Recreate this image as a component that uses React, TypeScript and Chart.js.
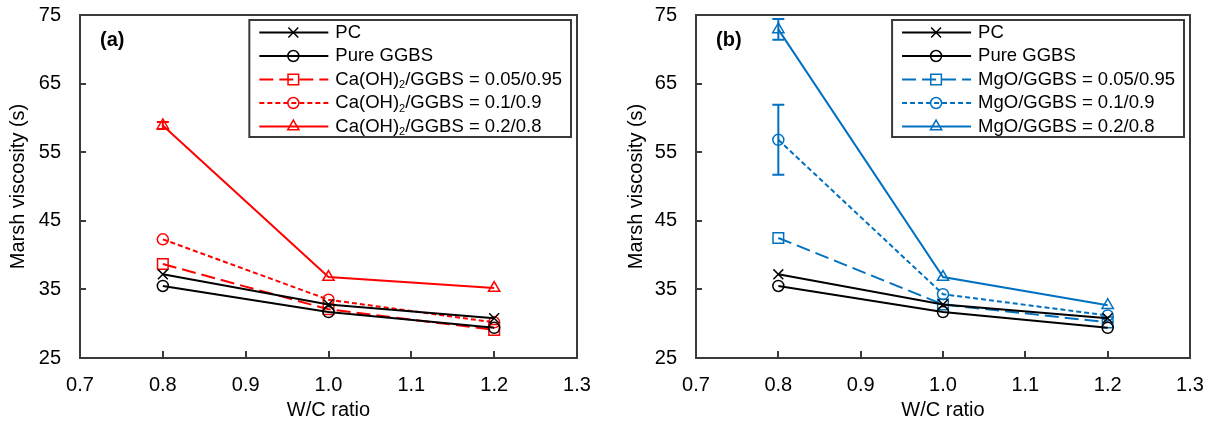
import { useEffect, useRef } from "react";
import { Chart, registerables } from "chart.js";

Chart.register(...registerables);

// ---------------- data ----------------
const wcRatio = [0.8, 1.0, 1.2];
const xTicks = [0.7, 0.8, 0.9, 1.0, 1.1, 1.2, 1.3];
const yTicks = [25, 35, 45, 55, 65, 75];

const pcValues = [37.2, 32.8, 30.8];
const ggbsValues = [35.5, 31.7, 29.4];

const caOH005 = [38.7, 32.1, 29.1];
const caOH01 = [42.3, 33.5, 30.2];
const caOH02 = [58.9, 36.8, 35.2];
const caOH02Err = [0.5, 0, 0];

const mgo005 = [42.5, 32.8, 30.2];
const mgo01 = [56.8, 34.3, 31.2];
const mgo01Err = [5.1, 0, 0];
const mgo02 = [72.9, 36.8, 32.7];
const mgo02Err = [1.5, 0, 0];

const labelsA = [
  "PC",
  "Pure GGBS",
  "Ca(OH)₂/GGBS = 0.05/0.95",
  "Ca(OH)₂/GGBS = 0.1/0.9",
  "Ca(OH)₂/GGBS = 0.2/0.8",
];
const labelsB = [
  "PC",
  "Pure GGBS",
  "MgO/GGBS = 0.05/0.95",
  "MgO/GGBS = 0.1/0.9",
  "MgO/GGBS = 0.2/0.8",
];

const xTitle = "W/C ratio";
const yTitle = "Marsh viscosity (s)";

// ---------------- styles ----------------
const FONT = "'Liberation Sans', Arial, sans-serif";
const RED = "#FF0000";
const BLUE = "#0070C0";
const BLACK = "#000000";
const FRAME = "#3a3a3a";

const LONG_DASH = [14, 6];
const SHORT_DASH = [5, 3];

type Style = "crossRot" | "circle" | "rect" | "triangle";
const RADII: Record<Style, number> = { crossRot: 7, circle: 5.5, rect: 7.5, triangle: 6.5 };

function drawMarker(ctx: CanvasRenderingContext2D, style: Style, x: number, y: number, r: number) {
  ctx.beginPath();
  if (style === "circle") {
    ctx.arc(x, y, r, 0, Math.PI * 2);
    ctx.closePath();
  } else if (style === "rect") {
    const s = r * Math.SQRT1_2;
    ctx.rect(x - s, y - s, 2 * s, 2 * s);
  } else if (style === "triangle") {
    let rad = 0;
    ctx.moveTo(x + Math.sin(rad) * r, y - Math.cos(rad) * r);
    rad += (Math.PI * 2) / 3;
    ctx.lineTo(x + Math.sin(rad) * r, y - Math.cos(rad) * r);
    rad += (Math.PI * 2) / 3;
    ctx.lineTo(x + Math.sin(rad) * r, y - Math.cos(rad) * r);
    ctx.closePath();
  } else {
    const o = r * Math.SQRT1_2;
    ctx.moveTo(x - o, y - o);
    ctx.lineTo(x + o, y + o);
    ctx.moveTo(x + o, y - o);
    ctx.lineTo(x - o, y + o);
  }
  ctx.stroke();
}

function richText(ctx: CanvasRenderingContext2D, text: string, x: number, y: number, size: number, draw: boolean) {
  const parts = text.split("₂");
  let cx = x;
  parts.forEach((p, i) => {
    ctx.font = `${size}px ${FONT}`;
    if (draw) ctx.fillText(p, cx, y);
    cx += ctx.measureText(p).width;
    if (i < parts.length - 1) {
      ctx.font = `${Math.round(size * 0.62)}px ${FONT}`;
      if (draw) ctx.fillText("2", cx, y + size * 0.3);
      cx += ctx.measureText("2").width;
    }
  });
  return cx - x;
}

interface SeriesDef {
  label: string;
  data: number[];
  color: string;
  dash: number[];
  style: Style;
  err?: number[];
}

function buildSeries(labels: string[], color: string, d005: number[], d01: number[], d02: number[], e01?: number[], e02?: number[]): SeriesDef[] {
  return [
    { label: labels[0], data: pcValues, color: BLACK, dash: [], style: "crossRot" },
    { label: labels[1], data: ggbsValues, color: BLACK, dash: [], style: "circle" },
    { label: labels[2], data: d005, color, dash: LONG_DASH, style: "rect" },
    { label: labels[3], data: d01, color, dash: SHORT_DASH, style: "circle", err: e01 },
    { label: labels[4], data: d02, color, dash: [], style: "triangle", err: e02 },
  ];
}

function makeChart(canvas: HTMLCanvasElement, series: SeriesDef[], panel: string, plotLeft: number, rightPad: number, yTitlePad: number) {
  const framePlugin = {
    id: "frameTicks",
    afterDatasetsDraw(chart: any) {
      const ctx = chart.ctx as CanvasRenderingContext2D;
      const { left, right, top, bottom } = chart.chartArea;
      const xs = chart.scales.x;
      const ys = chart.scales.y;
      ctx.save();
      // error bars
      chart.data.datasets.forEach((_ds: any, di: number) => {
        const s = series[di];
        if (!s.err) return;
        ctx.strokeStyle = s.color;
        ctx.lineWidth = 2;
        ctx.setLineDash([]);
        s.err.forEach((e, i) => {
          if (!e) return;
          const px = xs.getPixelForValue(wcRatio[i]);
          const yHi = ys.getPixelForValue(s.data[i] + e);
          const yLo = ys.getPixelForValue(s.data[i] - e);
          ctx.beginPath();
          ctx.moveTo(px, yHi);
          ctx.lineTo(px, yLo);
          ctx.moveTo(px - 6, yHi);
          ctx.lineTo(px + 6, yHi);
          ctx.moveTo(px - 6, yLo);
          ctx.lineTo(px + 6, yLo);
          ctx.stroke();
        });
      });
      // frame
      ctx.strokeStyle = FRAME;
      ctx.lineWidth = 2;
      ctx.strokeRect(left, top, right - left, bottom - top);
      // inner ticks
      ctx.beginPath();
      yTicks.slice(1, -1).forEach((v) => {
        const py = Math.round(ys.getPixelForValue(v));
        ctx.moveTo(left, py);
        ctx.lineTo(left + 6, py);
      });
      xTicks.slice(1, -1).forEach((v) => {
        const px = Math.round(xs.getPixelForValue(v));
        ctx.moveTo(px, bottom);
        ctx.lineTo(px, bottom - 7);
      });
      ctx.stroke();
      // panel label
      ctx.fillStyle = "#000";
      ctx.font = `bold 20px ${FONT}`;
      ctx.textBaseline = "middle";
      ctx.textAlign = "left";
      ctx.fillText(panel, left + 20, top + 25);
      ctx.restore();
    },
    afterDraw(chart: any) {
      const ctx = chart.ctx as CanvasRenderingContext2D;
      const { right, top } = chart.chartArea;
      const size = 18.5;
      ctx.save();
      ctx.textBaseline = "middle";
      ctx.textAlign = "left";
      let maxW = 0;
      series.forEach((s) => {
        maxW = Math.max(maxW, richText(ctx, s.label, 0, 0, size, false));
      });
      const boxW = 86 + maxW + 9;
      const boxR = right - 6;
      const boxL = boxR - boxW;
      const boxT = top + 5;
      const rowH = 23.5;
      const boxH = 12.5 + rowH * 4 + 10.5;
      ctx.fillStyle = "#fff";
      ctx.fillRect(boxL, boxT, boxW, boxH);
      ctx.strokeStyle = FRAME;
      ctx.lineWidth = 2;
      ctx.setLineDash([]);
      ctx.strokeRect(boxL, boxT, boxW, boxH);
      series.forEach((s, i) => {
        const cy = boxT + 12.5 + i * rowH;
        ctx.strokeStyle = s.color;
        ctx.lineWidth = 2;
        ctx.setLineDash(s.dash);
        ctx.beginPath();
        ctx.moveTo(boxL + 10, cy);
        ctx.lineTo(boxL + 79, cy);
        ctx.stroke();
        ctx.setLineDash([]);
        ctx.lineWidth = 1.5;
        drawMarker(ctx, s.style, boxL + 44, cy, RADII[s.style]);
        ctx.fillStyle = "#000";
        richText(ctx, s.label, boxL + 86, cy, size, true);
      });
      ctx.restore();
    },
  };

  return new Chart(canvas, {
    type: "line",
    data: {
      datasets: series.map((s) => ({
        label: s.label,
        data: wcRatio.map((x, i) => ({ x, y: s.data[i] })),
        borderColor: s.color,
        borderWidth: 2,
        borderDash: s.dash,
        pointStyle: s.style,
        pointRadius: RADII[s.style],
        pointBorderWidth: 1.5,
        pointBorderColor: s.color,
        pointBackgroundColor: "rgba(0,0,0,0)",
        pointHoverRadius: RADII[s.style],
        tension: 0,
        fill: false,
      })),
    },
    options: {
      animation: false,
      responsive: false,
      events: [],
      layout: { padding: { top: 15, right: rightPad, left: 0, bottom: 0 } },
      plugins: { legend: { display: false }, tooltip: { enabled: false } },
      scales: {
        x: {
          type: "linear",
          min: 0.7,
          max: 1.3,
          grid: { display: false },
          border: { display: false },
          afterBuildTicks: (scale: any) => {
            scale.ticks = xTicks.map((v) => ({ value: v }));
          },
          afterFit: (scale: any) => {
            scale.height = 68;
            scale.paddingLeft = 0;
            scale.paddingRight = 0;
            scale.paddingTop = 0;
            scale.paddingBottom = 0;
          },
          ticks: {
            color: "#000",
            padding: 7,
            font: { family: FONT, size: 20 },
            maxRotation: 0,
            autoSkip: false,
            callback: (v: any) => Number(v).toFixed(1),
          },
          title: {
            display: true,
            text: xTitle,
            color: "#000",
            font: { family: FONT, size: 20 },
            padding: { top: 0, bottom: 4 },
          },
        },
        y: {
          type: "linear",
          min: 25,
          max: 75,
          grid: { display: false },
          border: { display: false },
          afterBuildTicks: (scale: any) => {
            scale.ticks = yTicks.map((v) => ({ value: v }));
          },
          afterFit: (scale: any) => {
            scale.width = plotLeft;
            scale.paddingLeft = 0;
            scale.paddingRight = 0;
            scale.paddingTop = 0;
            scale.paddingBottom = 0;
          },
          ticks: {
            color: "#000",
            padding: 11,
            font: { family: FONT, size: 20 },
            autoSkip: false,
          },
          title: {
            display: true,
            text: yTitle,
            color: "#000",
            font: { family: FONT, size: 20 },
            padding: { top: yTitlePad, bottom: 0 },
          },
        },
      },
    },
    plugins: [framePlugin],
  } as any);
}

export default function App() {
  const leftRef = useRef<HTMLCanvasElement>(null);
  const rightRef = useRef<HTMLCanvasElement>(null);

  useEffect(() => {
    const a = makeChart(
      leftRef.current!,
      buildSeries(labelsA, RED, caOH005, caOH01, caOH02, undefined, caOH02Err),
      "(a)",
      80,
      30,
      6
    );
    const b = makeChart(
      rightRef.current!,
      buildSeries(labelsB, BLUE, mgo005, mgo01, mgo02, mgo01Err, mgo02Err),
      "(b)",
      89,
      25,
      17
    );
    return () => {
      a.destroy();
      b.destroy();
    };
  }, []);

  return (
    <div style={{ position: "absolute", left: 0, top: 0, width: 1215, height: 426, background: "#fff" }}>
      <canvas ref={leftRef} width={607} height={426} style={{ position: "absolute", left: 0, top: 0 }} />
      <canvas ref={rightRef} width={608} height={426} style={{ position: "absolute", left: 607, top: 0 }} />
    </div>
  );
}
